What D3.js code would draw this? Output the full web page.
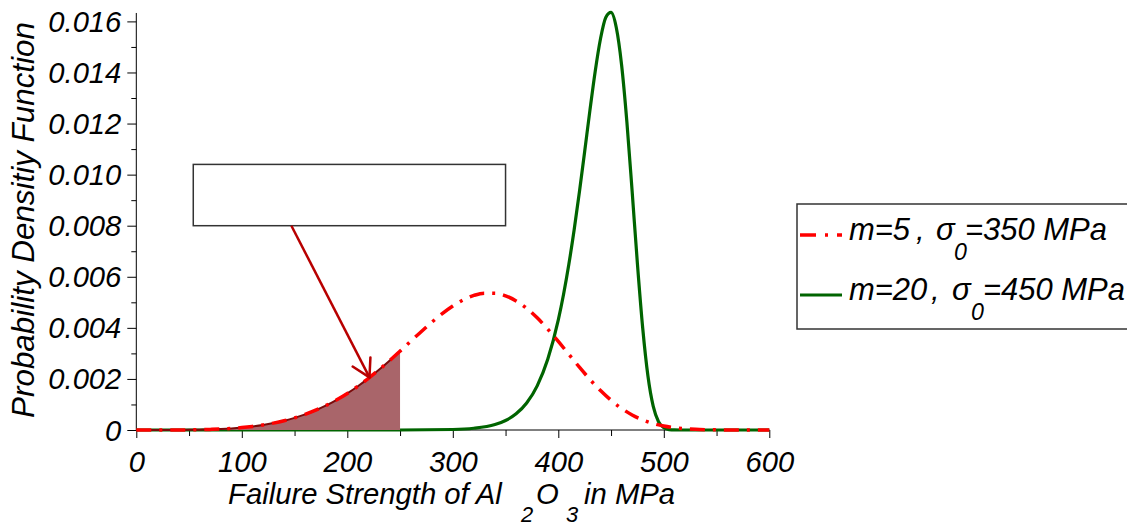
<!DOCTYPE html>
<html>
<head>
<meta charset="utf-8">
<script src="https://cdn.jsdelivr.net/npm/d3@7"></script>
<style>
  html, body { margin: 0; padding: 0; background: #fff; }
  svg { display: block; }
  text { font-family: "Liberation Sans", Arial, Helvetica, sans-serif; font-style: italic; fill: #000; }
</style>
</head>
<body>
<svg id="chart" width="1127" height="526"></svg>
<script>
// Weibull density of Al2O3 failure strength, two parameter sets
const xTicks = [0, 100, 200, 300, 400, 500, 600];
const xMinorTicks = [50, 150, 250, 350, 450, 550];
const yTicks = [0, 0.002, 0.004, 0.006, 0.008, 0.010, 0.012, 0.014, 0.016];
const yTickLabels = ["0", "0.002", "0.004", "0.006", "0.008", "0.010", "0.012", "0.014", "0.016"];
const yMinorTicks = [0.001, 0.003, 0.005, 0.007, 0.009, 0.011, 0.013, 0.015];

// m = 5, sigma0 = 350 MPa
const strengthA = [0, 10, 20, 30, 40, 50, 60, 70, 80, 90, 100, 110, 120, 130, 140, 150, 160, 170, 180, 190,
  200, 210, 220, 230, 240, 250, 260, 270, 280, 290, 300, 310, 320, 330, 340, 350, 360, 370, 380, 390,
  400, 410, 420, 430, 440, 450, 460, 470, 480, 490, 500, 510, 520, 530, 540, 550, 560, 570, 580, 590, 600];
const pdfA = [0, 0.00000001, 0.00000015, 0.00000077, 0.00000244, 0.00000595, 0.0000123, 0.0000229, 0.0000390, 0.0000624,
  0.0000950, 0.000139, 0.000196, 0.000270, 0.000362, 0.000475, 0.000612, 0.000774, 0.000964, 0.001184,
  0.001433, 0.001713, 0.002022, 0.002357, 0.002714, 0.003088, 0.003470, 0.003850, 0.004216, 0.004557,
  0.004855, 0.005098, 0.005270, 0.005359, 0.005356, 0.005255, 0.005056, 0.004765, 0.004391, 0.003952,
  0.003469, 0.002962, 0.002460, 0.001980, 0.001545, 0.001163, 0.000844, 0.000590, 0.000395, 0.000253,
  0.000155, 0.0000904, 0.0000500, 0.0000262, 0.0000129, 0.0000060, 0.0000026, 0.0000010, 0.0000004, 0.0000001, 0];

// m = 20, sigma0 = 450 MPa
const strengthB = [0, 100, 200, 250, 300, 320, 340, 350, 360, 370, 380, 390, 400, 405, 410, 415, 420, 425,
  430, 435, 440, 445, 450, 455, 460, 465, 470, 475, 480, 485, 490, 495, 500, 505, 510, 520, 540, 560, 580, 600];
const pdfB = [0, 0, 0, 0.0000006, 0.0000200, 0.0000682, 0.000215, 0.000372, 0.000633, 0.001056, 0.001729, 0.002768,
  0.004313, 0.005317, 0.006489, 0.007829, 0.009316, 0.010907, 0.012524, 0.014049, 0.015321, 0.016155,
  0.016350, 0.015751, 0.014293, 0.012067, 0.009340, 0.006507, 0.003995, 0.002105, 0.000924, 0.000326,
  0.0000881, 0.0000173, 0.0000023, 0, 0, 0, 0, 0];

const seriesLabels = [
  { m: "m=5", s0: "=350 MPa" },
  { m: "m=20", s0: "=450 MPa" }
];

// shaded probability region and its annotation (data units)
const shadeLimit = 250;
const noteBox = { x0: 54, x1: 350, yTop: 0.0104, yBottom: 0.0080 };
const arrowFrom = [147, 0.0080];
const arrowTo = [221, 0.00206];

const svg = d3.select("#chart");
const x = d3.scaleLinear().domain([0, 600]).range([136.3, 769.3]);
const y = d3.scaleLinear().domain([0, 0.016]).range([430, 21.4]);

const redColor = "#ff0000";
const greenColor = "#006400";

// font size that makes a string span a given width
function fitSize(str, width, base) {
  const t = svg.append("text").style("font-size", base + "px").text(str);
  const w = t.node().getComputedTextLength();
  t.remove();
  return w > 0 ? base * width / w : base;
}
const tickSize = fitSize("0.016", 73, 30);
const titleSize = fitSize("Failure Strength of Al", 274, 30);
const yTitleSize = fitSize("Probability Densitiy Function", 396, 30);
const legendSize = fitSize("=350 MPa", 142, 30);

// ---- axes ----
const xAxis = svg.append("g").attr("transform", `translate(0,${y(0)})`)
  .call(d3.axisBottom(x).tickValues(xTicks).tickSize(8).tickSizeOuter(0).tickFormat(d => String(d)));
xAxis.select(".domain").remove();
xAxis.selectAll(".tick line").attr("stroke", "#000");
xAxis.selectAll(".tick text").attr("y", 42).attr("dy", null)
  .style("font-size", tickSize + "px").style("font-family", null).attr("fill", "#000");

const xMinor = svg.append("g").attr("transform", `translate(0,${y(0)})`)
  .call(d3.axisBottom(x).tickValues(xMinorTicks).tickSize(6).tickSizeOuter(0).tickFormat(""));
xMinor.select(".domain").remove();

const yAxis = svg.append("g").attr("transform", `translate(${x(0)},0)`)
  .call(d3.axisLeft(y).tickValues(yTicks).tickSize(9).tickSizeOuter(0)
    .tickFormat((d, i) => yTickLabels[i]));
yAxis.select(".domain").remove();
yAxis.selectAll(".tick text").attr("x", -15).attr("y", 10).attr("dy", null)
  .style("font-size", tickSize + "px").style("font-family", null).attr("fill", "#000");

const yMinor = svg.append("g").attr("transform", `translate(${x(0)},0)`)
  .call(d3.axisLeft(y).tickValues(yMinorTicks).tickSize(5).tickSizeOuter(0).tickFormat(""));
yMinor.select(".domain").remove();

svg.append("line").attr("x1", x(0)).attr("x2", x(600)).attr("y1", y(0)).attr("y2", y(0))
  .attr("stroke", "#000").attr("stroke-width", 1);
svg.append("line").attr("x1", x(0)).attr("x2", x(0)).attr("y1", y(0)).attr("y2", y(0.01633))
  .attr("stroke", "#000").attr("stroke-width", 1);

// ---- curves ----
const ptsA = strengthA.map((s, i) => [s, pdfA[i]]);
const ptsB = strengthB.map((s, i) => [s, pdfB[i]]);
const line = d3.line().x(d => x(d[0])).y(d => y(d[1])).curve(d3.curveMonotoneX);

svg.append("path").attr("d", line(ptsB)).attr("fill", "none")
  .attr("stroke", greenColor).attr("stroke-width", 3.2).attr("stroke-linejoin", "round");

const shaded = ptsA.filter(d => d[0] <= shadeLimit);
const area = d3.area().x(d => x(d[0])).y0(y(0)).y1(d => y(d[1])).curve(d3.curveMonotoneX);
svg.append("path").attr("d", area(shaded)).attr("fill", "#a9656a");
svg.append("path").attr("d", line(shaded)).attr("fill", "none")
  .attr("stroke", "#7a0a0a").attr("stroke-width", 2);

svg.append("path").attr("d", line(ptsA)).attr("fill", "none")
  .attr("stroke", redColor).attr("stroke-width", 3.5)
  .attr("stroke-dasharray", "15,8,3,8");

// ---- annotation ----
svg.append("rect")
  .attr("x", x(noteBox.x0)).attr("y", y(noteBox.yTop))
  .attr("width", x(noteBox.x1) - x(noteBox.x0)).attr("height", y(noteBox.yBottom) - y(noteBox.yTop))
  .attr("fill", "#fff").attr("stroke", "#333").attr("stroke-width", 1.5);

const a0 = [x(arrowFrom[0]), y(arrowFrom[1])];
const a1 = [x(arrowTo[0]), y(arrowTo[1])];
const ang = Math.atan2(a1[1] - a0[1], a1[0] - a0[0]);
const headLen = 20, headSpread = Math.PI / 6;
const arrowColor = "#b80000";
svg.append("line").attr("x1", a0[0]).attr("y1", a0[1]).attr("x2", a1[0]).attr("y2", a1[1])
  .attr("stroke", arrowColor).attr("stroke-width", 2.5);
[-1, 1].forEach(sgn => {
  const a = ang + Math.PI + sgn * headSpread;
  svg.append("line").attr("x1", a1[0]).attr("y1", a1[1])
    .attr("x2", a1[0] + headLen * Math.cos(a)).attr("y2", a1[1] + headLen * Math.sin(a))
    .attr("stroke", arrowColor).attr("stroke-width", 2.5).attr("stroke-linecap", "round");
});

// ---- axis titles ----
const subSize = titleSize * 0.75;
const xTitleParts = [
  { text: "Failure Strength of Al", x: 228, y: 504, size: titleSize },
  { text: "2", x: 521, y: 522, size: subSize },
  { text: "O", x: 536, y: 504, size: titleSize },
  { text: "3", x: 566, y: 522, size: subSize },
  { text: "in MPa", x: 584, y: 504, size: titleSize }
];
xTitleParts.forEach(p => {
  svg.append("text").attr("x", p.x).attr("y", p.y)
    .style("font-size", p.size + "px").text(p.text);
});

svg.append("text")
  .attr("transform", "translate(34,220) rotate(-90)")
  .attr("text-anchor", "middle")
  .style("font-size", yTitleSize + "px")
  .text("Probability Densitiy Function");

// ---- legend ----
svg.append("rect").attr("x", 797).attr("y", 204).attr("width", 345).attr("height", 125)
  .attr("fill", "#fff").attr("stroke", "#333").attr("stroke-width", 1.5);

const legendRows = [
  { base: 240, color: redColor, dash: "16,9,3,9", width: 3.5,
    pos: { m: 849, comma: 916, sigma: 936, sub: 954, rest: 965 } },
  { base: 300, color: greenColor, dash: null, width: 3.2,
    pos: { m: 849, comma: 931, sigma: 952, sub: 971, rest: 983 } }
];
legendRows.forEach((r, i) => {
  const ly = r.base - 5;
  const ln = svg.append("line").attr("x1", 800).attr("x2", 842).attr("y1", ly).attr("y2", ly)
    .attr("stroke", r.color).attr("stroke-width", r.width);
  if (r.dash) ln.attr("stroke-dasharray", r.dash);
  const t = svg.append("text").attr("y", r.base).style("font-size", legendSize + "px");
  t.append("tspan").attr("x", r.pos.m).text(seriesLabels[i].m);
  t.append("tspan").attr("x", r.pos.comma).text(",");
  t.append("tspan").attr("x", r.pos.sigma).text("σ");
  t.append("tspan").attr("x", r.pos.sub).attr("y", r.base + 20)
    .style("font-size", (legendSize * 0.75) + "px").text("0");
  t.append("tspan").attr("x", r.pos.rest).attr("y", r.base).text(seriesLabels[i].s0);
});
</script>
</body>
</html>
